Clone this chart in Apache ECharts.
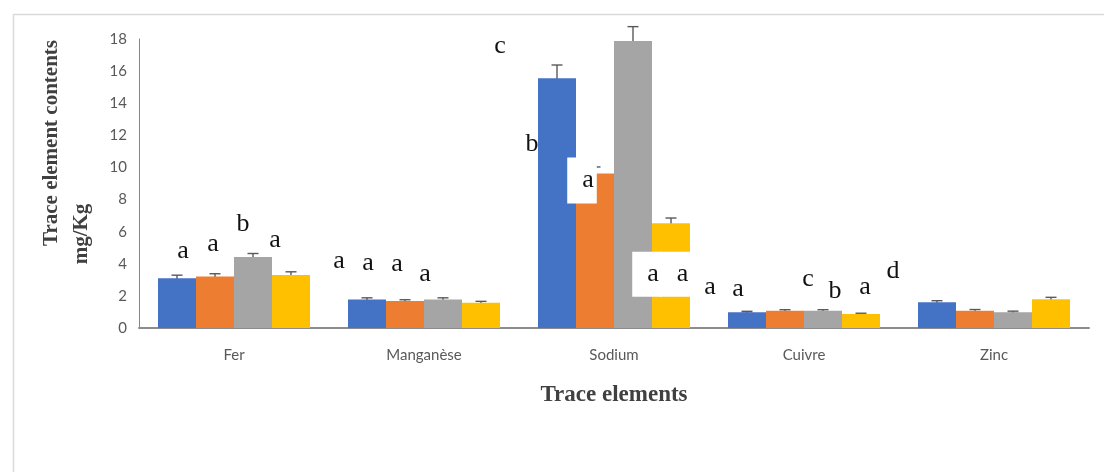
<!DOCTYPE html>
<html>
<head>
<meta charset="utf-8">
<script src="https://cdn.jsdelivr.net/npm/echarts@6/dist/echarts.min.js"></script>
<style>
  html, body { margin: 0; padding: 0; background: #ffffff; }
  #chart { width: 1104px; height: 472px; }
</style>
</head>
<body>
<div id="chart"></div>
<script>
// Trace element contents (mg/Kg) for four samples, with standard errors
const categories = ['Fer', 'Manganèse', 'Sodium', 'Cuivre', 'Zinc'];
const yMin = 0, yMax = 18, yStep = 2;

const blueValues   = [3.10, 1.78, 15.55, 0.98, 1.60];
const orangeValues = [3.20, 1.68,  9.63, 1.08, 1.08];
const grayValues   = [4.42, 1.78, 17.87, 1.08, 0.98];
const yellowValues = [3.30, 1.58,  6.52, 0.87, 1.79];

const blueErrors   = [0.19, 0.10, 0.83, 0.06, 0.10];
const orangeErrors = [0.18, 0.08, 0.40, 0.06, 0.07];
const grayErrors   = [0.22, 0.10, 0.90, 0.06, 0.07];
const yellowErrors = [0.20, 0.08, 0.33, 0.05, 0.12];

// significance letters written next to each bar
const blueLetters   = ['a', 'a', 'b', 'a', 'b'];
const orangeLetters = ['a', 'a', 'a', 'a', 'a'];
const grayLetters   = ['b', 'a', 'c', 'a', 'd'];
const yellowLetters = ['a', 'a', 'a', 'c', ''];

// letter placement: pixel shift from the top centre of its bar
const blueShift   = [[6, -27], [-28, -38], [-25, 66], [-72, -38], [-102, -11]];
const orangeShift = [[-2, -32], [-37, -38], [-13, 7], [-75, -23], [-110, -23]];
const grayShift   = [[-10, -33], [-46, -35], [-133, 5], [-85, -21], [-120, -41]];
const yellowShift = [[-16, -35], [-56, -28], [-24, 51], [-53, -35], [0, 0]];

// white boxes drawn behind some letters (padding: top, right, bottom, left)
const bluePads   = [null, null, null, [15, 2, 4, 17], null];
const orangePads = [null, null, [15, 3, 5, 15], null, null];
const grayPads   = [null, null, null, null, null];
const yellowPads = [null, null, [15, 3, 4, 15], null, null];

const seriesDefs = [
  { name: 'Série 1', color: '#4472C4', values: blueValues,   errors: blueErrors,   letters: blueLetters,   shift: blueShift,   pads: bluePads },
  { name: 'Série 2', color: '#ED7D31', values: orangeValues, errors: orangeErrors, letters: orangeLetters, shift: orangeShift, pads: orangePads },
  { name: 'Série 3', color: '#A5A5A5', values: grayValues,   errors: grayErrors,   letters: grayLetters,   shift: grayShift,   pads: grayPads },
  { name: 'Série 4', color: '#FFC000', values: yellowValues, errors: yellowErrors, letters: yellowLetters, shift: yellowShift, pads: yellowPads }
];

const CAT_GAP = 0.2;           // barCategoryGap as a fraction of the band
const LETTER_FONT = '"Liberation Serif", "Times New Roman", serif';

function letterLabel(def, i) {
  const txt = def.letters[i];
  const label = {
    show: txt !== '',
    position: 'top',
    distance: 0,
    align: 'center',
    verticalAlign: 'middle',
    offset: def.shift[i],
    formatter: () => txt,
    fontFamily: LETTER_FONT,
    fontSize: 26,
    color: '#111111'
  };
  if (def.pads[i]) {
    label.backgroundColor = '#ffffff';
    label.padding = def.pads[i];
  }
  return label;
}

function errorRenderer(k, count) {
  return function (params, api) {
    const cat = api.value(0);
    const v = api.value(1);
    const e = api.value(2);
    const band = api.size([1, 0])[0];
    const barW = band * (1 - CAT_GAP) / count;
    const x = api.coord([cat, v])[0] + (k - (count - 1) / 2) * barW;
    const yTop = api.coord([cat, v + e])[1];
    const yBot = api.coord([cat, v - e])[1];
    const cap = 5.5;
    const style = { stroke: '#595959', lineWidth: 1.4 };
    return {
      type: 'group',
      children: [
        { type: 'line', shape: { x1: x, y1: yTop, x2: x, y2: yBot }, style: style },
        { type: 'line', shape: { x1: x - cap, y1: yTop, x2: x + cap, y2: yTop }, style: style },
        { type: 'line', shape: { x1: x - cap, y1: yBot, x2: x + cap, y2: yBot }, style: style }
      ]
    };
  };
}

const series = [];
seriesDefs.forEach(function (def) {
  series.push({
    type: 'bar',
    name: def.name,
    barGap: '0%',
    barCategoryGap: (CAT_GAP * 100) + '%',
    itemStyle: { color: def.color },
    z: 2,
    data: def.values.map(function (v, i) {
      return { value: v, label: letterLabel(def, i) };
    })
  });
});
seriesDefs.forEach(function (def, k) {
  series.push({
    type: 'custom',
    name: def.name + ' err',
    renderItem: errorRenderer(k, seriesDefs.length),
    encode: { x: 0, y: 1 },
    z: 2,
    silent: true,
    data: def.values.map(function (v, i) { return [i, v, def.errors[i]]; })
  });
});

const chart = echarts.init(document.getElementById('chart'), null, { renderer: 'canvas' });
chart.setOption({
  backgroundColor: '#ffffff',
  animation: false,
  grid: { left: 139, right: 15, top: 39, bottom: 144, outerBoundsMode: 'none' },
  xAxis: {
    type: 'category',
    data: categories,
    boundaryGap: true,
    axisLine: { show: true, lineStyle: { color: '#8c8c8c', width: 2 } },
    axisTick: { show: false },
    axisLabel: { margin: 20, fontFamily: 'Lato, "Open Sans", sans-serif', fontSize: 15, color: '#595959' },
    name: 'Trace elements',
    nameLocation: 'middle',
    nameGap: 56,
    nameTextStyle: { fontFamily: LETTER_FONT, fontWeight: 'bold', fontSize: 23, color: '#404040' }
  },
  yAxis: {
    type: 'value',
    min: yMin,
    max: yMax,
    interval: yStep,
    axisLine: { show: true, lineStyle: { color: '#868686', width: 1 } },
    axisTick: { show: false },
    splitLine: { show: false },
    axisLabel: { margin: 12, fontFamily: 'Lato, "Open Sans", sans-serif', fontSize: 15, color: '#595959' }
  },
  graphic: [
    {
      type: 'rect',
      silent: true,
      shape: { x: 13.5, y: 14.5, width: 1200, height: 600 },
      style: { fill: 'none', stroke: '#d9d9d9', lineWidth: 1.5 }
    },
    {
      type: 'text',
      x: 52, y: 143,
      rotation: Math.PI / 2,
      style: {
        text: 'Trace element contents',
        font: 'bold 21px "Liberation Serif", serif',
        fill: '#404040',
        align: 'center',
        verticalAlign: 'middle'
      }
    },
    {
      type: 'text',
      x: 82, y: 234,
      rotation: Math.PI / 2,
      style: {
        text: 'mg/Kg',
        font: 'bold 21px "Liberation Serif", serif',
        fill: '#404040',
        align: 'center',
        verticalAlign: 'middle'
      }
    }
  ],
  series: series
});
</script>
</body>
</html>
